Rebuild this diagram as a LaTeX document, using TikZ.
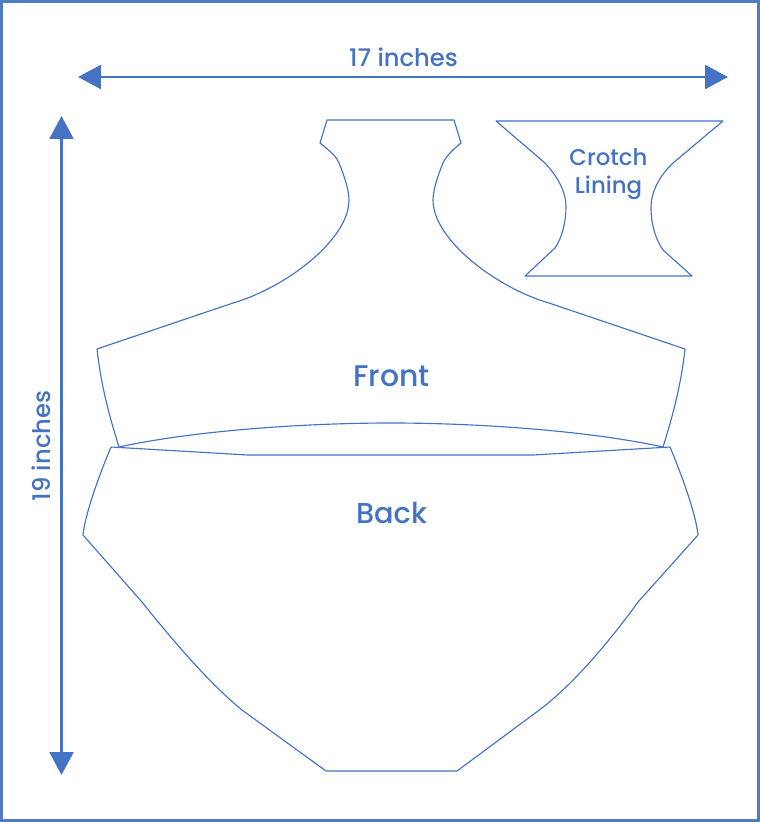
\documentclass[tikz,border=0pt]{standalone}
\usepackage{fontspec}
\setmainfont{Poppins Medium}
\usetikzlibrary{arrows.meta}
\definecolor{patternblue}{HTML}{4472C4}
\definecolor{frameblue}{HTML}{4F7BC0}
\tikzset{
    outline/.style={color=patternblue, line width=0.65pt, line join=round},
    measure/.style={color=patternblue, line width=1.6pt, {Triangle[length=13pt,width=13.5pt]}-{Triangle[length=13pt,width=13.5pt]}},
    piecelabel/.style={text=patternblue, font=\fontsize{17}{17}\selectfont},
    sizelabel/.style={text=patternblue, font=\fontsize{13.8}{13.8}\selectfont}
}
\begin{document}
\begin{tikzpicture}[x=0.02cm,y=-0.02cm]
    % page frame
    \useasboundingbox (0,0) rectangle (760,822);
    \draw[color=frameblue, line width=1.7pt] (1.5,1.5) rectangle (758.5,820.5);

    % front piece
    \draw[outline] (327,120) -- (454,120) -- (461,143)
        .. controls (450,152) and (445,158) .. (443,163)
        .. controls (438,175) and (433,190) .. (433,200)
        .. controls (433,240) and (497,288) .. (549,303)
        -- (685,349)
        .. controls (681,385) and (673,415) .. (663,447)
        .. controls (590,431) and (480,423) .. (391,423)
        .. controls (302,423) and (192,431) .. (119,447)
        .. controls (109,415) and (101,385) .. (97,349)
        -- (233,303)
        .. controls (285,288) and (349,240) .. (349,200)
        .. controls (349,190) and (344,175) .. (339,163)
        .. controls (336,156) and (331,152) .. (320,143)
        -- cycle;

    % back piece
    \draw[outline] (111,447) -- (248,455) -- (533,455) -- (670,447)
        .. controls (683,478) and (696,515) .. (698,535)
        -- (638,602) -- (630,613)
        .. controls (605,646) and (575,682) .. (542,708)
        -- (457,771) -- (326,771) -- (242,710)
        .. controls (215,688) and (185,655) .. (150,612)
        -- (142,602) -- (83,535)
        .. controls (85,515) and (98,478) .. (111,447);

    % crotch lining piece
    \draw[outline] (496,121) -- (723,121) -- (673,163)
        .. controls (660,175) and (651,192) .. (651,207)
        .. controls (651,225) and (656,240) .. (663,250)
        -- (692,276) -- (525,276) -- (555,248)
        .. controls (562,238) and (566,222) .. (566,207)
        .. controls (566,190) and (556,175) .. (545,163)
        -- cycle;

    % measures
    \coordinate (widthleft) at (78,77);
    \coordinate (widthright) at (728,77);
    \coordinate (heighttop) at (61.5,116);
    \coordinate (heightbottom) at (61.5,775);
    \draw[measure] (widthleft) -- (widthright);
    \draw[measure] (heighttop) -- (heightbottom);

    \node[sizelabel] (widthlabel) at (403.5,57) {17 inches};
    \node[sizelabel, rotate=90] (heightlabel) at (41,446) {19 inches};
    \node[piecelabel] (frontlabel) at (391.5,376) {Front};
    \node[piecelabel, font=\fontsize{16.4}{16.4}\selectfont] (backlabel) at (391.5,513) {Back};
    \node[sizelabel, align=center, font=\fontsize{13}{16}\selectfont] (crotchlabel) at (608.5,174) {Crotch\\Lining};
\end{tikzpicture}
\end{document}
